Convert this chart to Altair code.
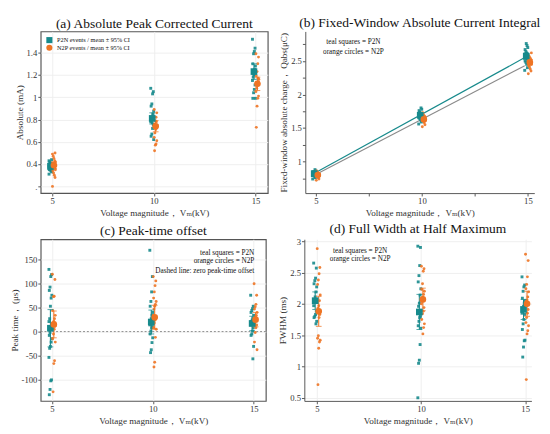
import altair as alt
import pandas as pd

KV = [5, 10, 15]
TEAL = "#178a8c"
ORANGE = "#ee7424"
GRAYLINE = "#8a8a8a"
FONT = "Liberation Serif, Times New Roman, DejaVu Serif, serif"
XTITLE = "Voltage magnitude，  Vₘ(kV)"

# ---------------- (a) absolute peak corrected current (mA)
a_p2n = {
    5: [0.31, 0.33, 0.34, 0.35, 0.35, 0.36, 0.36, 0.37, 0.37, 0.38, 0.38, 0.38, 0.39, 0.39, 0.40, 0.40, 0.41, 0.42, 0.43, 0.44],
    10: [1.08, 1.05, 1.03, 0.94, 0.92, 0.875, 0.83, 0.81, 0.80, 0.78, 0.75, 0.72, 0.67, 0.65, 0.62, 0.85, 0.77],
    15: [1.52, 1.44, 1.41, 1.39, 1.30, 1.28, 1.23, 1.21, 1.18, 1.15, 1.11, 1.07, 1.04, 0.99, 0.99, 1.25, 1.20],
}
a_n2p = {
    5: [0.20, 0.28, 0.30, 0.32, 0.34, 0.35, 0.36, 0.37, 0.38, 0.38, 0.39, 0.40, 0.40, 0.41, 0.42, 0.43, 0.45, 0.47, 0.49, 0.50],
    10: [0.89, 0.86, 0.82, 0.79, 0.76, 0.74, 0.73, 0.71, 0.68, 0.64, 0.61, 0.58, 0.57, 0.52, 0.75, 0.78],
    15: [1.39, 1.36, 1.30, 1.23, 1.19, 1.16, 1.14, 1.11, 1.08, 1.05, 1.01, 0.99, 0.92, 0.73, 1.12, 1.17],
}
a_mean_p2n, a_ci_p2n = [0.38, 0.81, 1.23], [0.03, 0.05, 0.07]
a_mean_n2p, a_ci_n2p = [0.39, 0.74, 1.12], [0.03, 0.05, 0.06]

# ---------------- (b) fixed-window absolute charge (uC)
b_p2n = {
    5: [0.74, 0.76, 0.78, 0.79, 0.80, 0.80, 0.81, 0.81, 0.82, 0.82, 0.83, 0.83, 0.84, 0.85, 0.86, 0.88],
    10: [1.56, 1.59, 1.62, 1.64, 1.65, 1.66, 1.67, 1.68, 1.69, 1.70, 1.71, 1.72, 1.74, 1.76, 1.78, 1.80],
    15: [2.36, 2.40, 2.45, 2.48, 2.50, 2.52, 2.54, 2.56, 2.57, 2.58, 2.60, 2.62, 2.64, 2.67, 2.70, 2.73, 2.76],
}
b_n2p = {
    5: [0.72, 0.74, 0.76, 0.77, 0.78, 0.79, 0.79, 0.80, 0.80, 0.81, 0.82, 0.83, 0.84, 0.86],
    10: [1.52, 1.55, 1.58, 1.60, 1.61, 1.62, 1.63, 1.64, 1.65, 1.66, 1.67, 1.68, 1.70, 1.73],
    15: [2.31, 2.35, 2.38, 2.41, 2.43, 2.45, 2.46, 2.48, 2.49, 2.50, 2.52, 2.54, 2.56, 2.58, 2.62],
}
b_mean_p2n, b_ci_p2n = [0.82, 1.69, 2.57], [0.02, 0.03, 0.05]
b_mean_n2p, b_ci_n2p = [0.80, 1.63, 2.48], [0.02, 0.03, 0.04]
b_fit_kv = [4.95, 14.85]
b_fit_p2n = [0.83, 2.55]
b_fit_n2p = [0.80, 2.43]

# ---------------- (c) peak-time offset (us)
c_p2n = {
    5: [130, 119, 115, 93, 86, 76, 70, 53, 27, 21, 14, 8, -2, -8, -15, -22, -31, -35, -54, -101, -103, -121, -132],
    10: [170, 115, 83, 63, 53, 40, 34, 27, 21, 14, 11, 8, 1, -5, -13, -23, -38, -44],
    15: [76, 53, 48, 44, 40, 34, 27, 24, 21, 14, 8, 1, -5, -8, -31, -57],
}
c_n2p = {
    5: [120, 109, 74, 73, 44, 34, 27, 21, 16, 14, 11, 5, -5, -15, -22, -61, -67, -126],
    10: [115, 106, 96, 83, 70, 63, 57, 53, 47, 34, 27, 24, 18, 8, 5, -12, -64, -74],
    15: [100, 76, 57, 52, 47, 40, 34, 31, 27, 21, 14, 8, -2, -22, -38],
}
c_mean_p2n, c_ci_p2n = [7, 20, 17], [39, 25, 15]
c_mean_n2p, c_ci_n2p = [15, 30, 25], [28, 25, 15]

# ---------------- (d) FWHM (ms)
d_p2n = {
    5: [2.65, 2.57, 2.41, 2.37, 2.32, 2.27, 2.19, 2.11, 2.04, 1.97, 1.88, 1.83, 1.80, 1.78, 1.72, 1.68],
    10: [2.92, 2.90, 2.61, 2.45, 2.35, 2.24, 2.14, 2.01, 1.96, 1.88, 1.80, 1.78, 1.72, 1.65, 1.61, 1.35, 1.10, 1.05, 0.50],
    15: [2.43, 2.30, 2.27, 2.20, 2.09, 2.05, 2.01, 1.96, 1.89, 1.85, 1.83, 1.75, 1.68, 1.59, 1.42, 1.41, 1.31, 1.15],
}
d_n2p = {
    5: [2.88, 2.58, 2.48, 2.38, 2.31, 2.14, 2.05, 1.97, 1.93, 1.88, 1.83, 1.78, 1.49, 1.45, 1.42, 1.39, 1.29, 0.71],
    10: [2.60, 2.56, 2.52, 2.32, 2.23, 2.20, 2.15, 2.10, 2.04, 2.00, 1.94, 1.88, 1.84, 1.75, 1.68, 1.62, 1.52],
    15: [2.79, 2.69, 2.43, 2.31, 2.24, 2.19, 2.11, 2.06, 2.04, 1.97, 1.91, 1.85, 1.78, 1.70, 1.65, 1.57, 1.52, 0.79],
}
d_mean_p2n, d_ci_p2n = [2.05, 1.87, 1.91], [0.14, 0.28, 0.16]
d_mean_n2p, d_ci_n2p = [1.88, 2.07, 2.00], [0.24, 0.18, 0.20]

OFF = {"P2N": -0.08, "N2P": 0.09}
GROUPS = ["P2N", "N2P"]
color_scale = alt.Scale(domain=GROUPS, range=[TEAL, ORANGE])
shape_scale = alt.Scale(domain=GROUPS, range=["square", "circle"])
COLOR = alt.Color("grp:N", scale=color_scale, legend=None)
SHAPE = alt.Shape("grp:N", scale=shape_scale, legend=None)
LABEL = "toString(datum.value)"


def points_df(p2n, n2p):
    rows = []
    for grp, d in (("P2N", p2n), ("N2P", n2p)):
        for kv in KV:
            for i, v in enumerate(d[kv]):
                jit = (((i * 7) % 9) - 4) * 0.018
                rows.append(dict(kv=kv, grp=grp, v=v, x=kv + OFF[grp] + jit))
    return pd.DataFrame(rows)


def stats_df(mp, cp, mn, cn):
    rows = []
    for grp, m, c in (("P2N", mp, cp), ("N2P", mn, cn)):
        for kv, mm, cc in zip(KV, m, c):
            rows.append(dict(kv=kv, grp=grp, x=kv + OFF[grp], mean=mm, lo=mm - cc, hi=mm + cc))
    return pd.DataFrame(rows)


def text_at(t, x, y, align="center", size=7.5):
    return alt.Chart(pd.DataFrame({"t": [t]})).mark_text(
        font=FONT, fontSize=size, align=align, baseline="middle", color="#111"
    ).encode(text="t:N", x=alt.value(x), y=alt.value(y))


def panel(title, pts, st, xdom, ydom, yvals, ytitle, framed, before, after, width, height,
          xvals=(5, 10, 15), ylabel_expr=LABEL, xlabel_expr=LABEL, grid=True):
    xargs = dict(values=list(xvals), tickCount=40, title=XTITLE, grid=grid, domain=not framed,
                 labelExpr=xlabel_expr, labelOverlap=False)
    yargs = dict(values=yvals, tickCount=40, title=ytitle, grid=grid, domain=not framed,
                 labelExpr=ylabel_expr, labelOverlap=False)
    xs = alt.Scale(domain=xdom, nice=False, zero=False)
    ys = alt.Scale(domain=ydom, nice=False, zero=False)

    base_pts = alt.Chart(pts).mark_point(filled=True, size=9, opacity=0.9).encode(
        x=alt.X("x:Q", scale=xs, axis=alt.Axis(**xargs)),
        y=alt.Y("v:Q", scale=ys, axis=alt.Axis(**yargs)),
        color=COLOR, shape=SHAPE,
    )
    sb = alt.Chart(st)
    rule = sb.mark_rule(strokeWidth=1.1).encode(x="x:Q", y="lo:Q", y2="hi:Q", color=COLOR)
    cap_lo = sb.mark_tick(orient="horizontal", size=6, thickness=1.1).encode(
        x="x:Q", y="lo:Q", color=COLOR)
    cap_hi = sb.mark_tick(orient="horizontal", size=6, thickness=1.1).encode(
        x="x:Q", y="hi:Q", color=COLOR)
    means = sb.mark_point(filled=True, size=48, opacity=1).encode(
        x="x:Q", y="mean:Q", color=COLOR, shape=SHAPE)
    layers = before + [base_pts, rule, cap_lo, cap_hi, means] + after
    view = {"stroke": "#555", "strokeWidth": 1.2} if framed else {"stroke": "transparent"}
    return alt.layer(*layers).properties(
        width=width, height=height, view=view,
        title=alt.TitleParams(title, font=FONT, fontSize=14, fontWeight="normal",
                              color="#111", offset=1))


WA, WB, WC, WD, H = 236, 238, 234, 236, 168


def leg_sym(grp, y):
    return alt.Chart(pd.DataFrame({"grp": [grp]})).mark_point(filled=True, size=40, opacity=1).encode(
        x=alt.value(9), y=alt.value(y), color=COLOR, shape=SHAPE)


leg_a = [leg_sym("P2N", 9), leg_sym("N2P", 17),
         text_at("P2N events / mean ± 95% CI", 17, 9, "left", 6.5),
         text_at("N2P events / mean ± 95% CI", 17, 17, "left", 6.5)]

pa = panel("(a) Absolute Peak Corrected Current", points_df(a_p2n, a_n2p),
           stats_df(a_mean_p2n, a_ci_p2n, a_mean_n2p, a_ci_n2p),
           [4.44, 15.6], [0.14, 1.59], [0.2, 0.4, 0.6, 0.8, 1.0, 1.2, 1.4],
           "Absolute (mA)", True, [], leg_a, WA, H,
           ylabel_expr="datum.value < 0.3 ? '.' : toString(datum.value)")

# (b)
fit_p = alt.Chart(pd.DataFrame({"kv": b_fit_kv, "fit": b_fit_p2n})).mark_line(
    strokeWidth=1.2, color=TEAL).encode(x="kv:Q", y="fit:Q")
fit_n = alt.Chart(pd.DataFrame({"kv": b_fit_kv, "fit": b_fit_n2p})).mark_line(
    strokeWidth=1.2, color=GRAYLINE).encode(x="kv:Q", y="fit:Q")
note_b = [text_at("teal squares = P2N", 50, 11), text_at("orange circles = N2P", 50, 21)]
pb = panel("(b) Fixed-Window Absolute Current Integral", points_df(b_p2n, b_n2p),
           stats_df(b_mean_p2n, b_ci_p2n, b_mean_n2p, b_ci_n2p),
           [4.5, 15.3], [0.53, 2.94], [0.75, 1.0, 1.25, 1.5, 1.75, 2.0, 2.25, 2.5, 2.75],
           "Fixed-window absolute charge，  Qabs(μC)", False, [fit_p, fit_n], note_b, WB, H,
           xvals=(5, 7.5, 10, 12.5, 15),
           ylabel_expr="(datum.value * 2) % 1 == 0 ? toString(datum.value) : ''",
           xlabel_expr="datum.value % 5 == 0 ? toString(datum.value) : ''",
           grid=False)

# (c)
zero = alt.Chart(pd.DataFrame({"z": [0]})).mark_rule(
    color="#888", strokeDash=[2, 2], strokeWidth=1).encode(y="z:Q")
note_c = [text_at("teal squares = P2N", WC - 12, 14, "right"),
          text_at("orange circles = N2P", WC - 12, 23, "right"),
          text_at("Dashed line:  zero peak-time offset", WC - 12, 33, "right")]
pc = panel("(c) Peak-time offset", points_df(c_p2n, c_n2p),
           stats_df(c_mean_p2n, c_ci_p2n, c_mean_n2p, c_ci_n2p),
           [4.44, 15.6], [-145, 193], [-100, -50, 0, 50, 100, 150],
           "Peak time，  (μs)", True, [zero], note_c, WC, H)

# (d)
note_d = [text_at("teal squares = P2N", 58, 12), text_at("orange circles = N2P", 58, 21)]
pd_ = panel("(d) Full Width at Half Maximum", points_df(d_p2n, d_n2p),
            stats_df(d_mean_p2n, d_ci_p2n, d_mean_n2p, d_ci_n2p),
            [4.4, 15.3], [0.45, 3.03], [0.5, 1.0, 1.5, 2.0, 2.5, 3.0],
            "FWHM (ms)", False, [], note_d, WD, H)

chart = alt.vconcat(
    alt.hconcat(pa, pb, spacing=10),
    alt.hconcat(pc, pd_, spacing=10),
    spacing=4,
).properties(padding=0).configure_axis(
    labelFont=FONT, labelFontSize=9, labelColor="#333",
    titleFont=FONT, titleFontSize=9.5, titleFontWeight="normal", titleColor="#333",
    tickColor="#555", domainColor="#555", gridColor="#eeeeee", tickSize=3,
    labelPadding=1, titlePadding=2,
).configure_view(stroke="#555").configure_title(
    font=FONT, fontWeight="normal"
)

chart.save("out.html", embed_options={"renderer": "svg", "actions": False})
